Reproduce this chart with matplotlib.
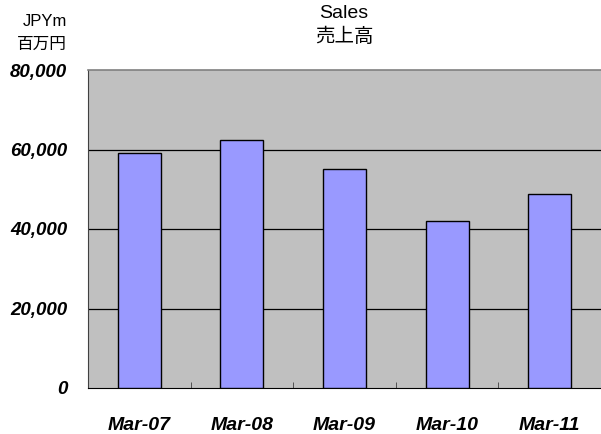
import numpy as np
import matplotlib
matplotlib.use("Agg")
import matplotlib.pyplot as plt

plt.rcParams['font.family'] = ['Liberation Sans', 'Noto Sans CJK JP', 'DejaVu Sans']

# --- data ---
periods = ["Mar-07", "Mar-08", "Mar-09", "Mar-10", "Mar-11"]
sales = [59200, 62300, 55200, 42000, 48900]
y_ticks = [0, 20000, 40000, 60000, 80000]

fig = plt.figure(figsize=(6.01, 4.34), dpi=100)
ax = fig.add_axes([88 / 601, 1 - 388 / 434, 1 - 88 / 601, (388 - 70) / 434])
ax.set_facecolor("#C0C0C0")

x = np.arange(len(periods))
ax.bar(x, sales, width=0.42, color="#9999FF", edgecolor="black", linewidth=1.0, zorder=3)

ax.set_xlim(-0.5, len(periods) - 0.5)
ax.set_ylim(0, 80000)

# gridlines
for t in y_ticks[1:-1]:
    ax.axhline(t, color="black", linewidth=0.9, zorder=1)

ax.spines["right"].set_visible(False)
ax.spines["top"].set_color("#808080")
ax.spines["top"].set_linewidth(1.2)
ax.spines["left"].set_color("#404040")
ax.spines["bottom"].set_color("black")

ax.set_yticks(y_ticks)
ax.set_yticklabels([f"{v:,}" for v in y_ticks], fontsize=13.5, fontweight="bold", style="italic")
ax.tick_params(axis="y", length=0, pad=15)

# category boundary ticks
ax.set_xticks(np.arange(0.5, len(periods) - 0.5, 1), minor=True)
ax.tick_params(axis="x", which="minor", direction="in", length=4, color="#404040")
ax.set_xticks(x)
ax.set_xticklabels(periods, fontsize=14, fontweight="bold", style="italic")
ax.tick_params(axis="x", which="major", length=0, pad=21)

fig.text(344 / 601, 1 - 14 / 434, "Sales", ha="center", va="center", fontsize=14)
fig.text(344 / 601, 1 - 37 / 434, "売上高", ha="center", va="center", fontsize=14)
fig.text(67 / 601, 1 - 21 / 434, "JPYm", ha="right", va="center", fontsize=12)
fig.text(67 / 601, 1 - 44 / 434, "百万円", ha="right", va="center", fontsize=12)

fig.savefig("out.png", dpi=100)
